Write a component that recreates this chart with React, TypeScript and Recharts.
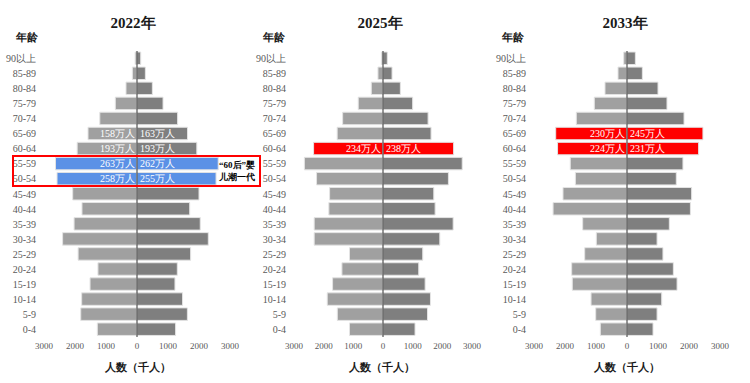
import React from 'react';
import { BarChart, Bar, XAxis, YAxis, Cell, LabelList, ReferenceLine } from 'recharts';

// age groups, bottom to top
const ages = ['0-4', '5-9', '10-14', '15-19', '20-24', '25-29', '30-34', '35-39', '40-44', '45-49',
    '50-54', '55-59', '60-64', '65-69', '70-74', '75-79', '80-84', '85-89', '90以上'];

// thousands of people, left = light bars, right = dark bars
const left2022 = [1280, 1815, 1785, 1515, 1260, 1900, 2400, 2030, 1775, 2075, 2580, 2630, 1930, 1580, 1200, 700, 355, 150, 60];
const right2022 = [1245, 1625, 1470, 1225, 1300, 1730, 2300, 2040, 1700, 2000, 2550, 2620, 1930, 1630, 1310, 840, 495, 270, 120];

const left2025 = [1130, 1540, 1880, 1700, 1385, 1130, 2320, 2320, 1825, 1800, 2240, 2650, 2340, 1545, 1360, 835, 395, 170, 55];
const right2025 = [1080, 1500, 1600, 1420, 1205, 1340, 1915, 2365, 1757, 1712, 2205, 2670, 2380, 1620, 1520, 1000, 585, 305, 145];

const left2033 = [860, 1010, 1160, 1765, 1785, 1365, 990, 1430, 2385, 2065, 1665, 1830, 2240, 2300, 1635, 1055, 710, 290, 105];
const right2033 = [840, 970, 1120, 1615, 1495, 1160, 970, 1365, 2045, 2085, 1590, 1805, 2310, 2450, 1840, 1290, 1000, 495, 270];

const xTicks = [-3000, -2000, -1000, 0, 1000, 2000, 3000];

const SERIF = '"Liberation Serif", "Times New Roman", serif';
const LEFT_GRAY = '#a0a0a0';
const RIGHT_GRAY = '#7f7f7f';

type Panel = {
    year: string;
    left: number[];
    right: number[];
    highlight: string[];
    hiColor: string;
    x: number;
    plotW: number;
    titleX: number;
    ageX: number;
    unitX: number;
};

const panels: Panel[] = [
    { year: '2022年', left: left2022, right: right2022, highlight: ['50-54', '55-59'], hiColor: '#5b91e6', x: 0, plotW: 186, titleX: 133, ageX: 16, unitX: 138 },
    { year: '2025年', left: left2025, right: right2025, highlight: ['60-64'], hiColor: '#ff0000', x: 250, plotW: 178, titleX: 380, ageX: 263, unitX: 382 },
    { year: '2033年', left: left2033, right: right2033, highlight: ['60-64', '65-69'], hiColor: '#ff0000', x: 490, plotW: 186, titleX: 625, ageX: 502, unitX: 627 },
];

// which rows carry a "xxx万人" label
const labelled: Record<string, string[]> = {
    '2022年': ['50-54', '55-59', '60-64', '65-69'],
    '2025年': ['60-64'],
    '2033年': ['60-64', '65-69'],
};

const toWan = (v: number) => `${Math.round(Math.abs(v) / 10)}万人`;

const makeLabel = (side: 'L' | 'R') => (props: any) => {
    const vb = props.viewBox && props.viewBox.width !== undefined ? props.viewBox : props;
    const { x, y, width, height } = vb;
    if (!props.value) return null;
    const x1 = Number(x), w = Number(width);
    const zero = side === 'L' ? Math.max(x1, x1 + w) : Math.min(x1, x1 + w);
    return (
        <text x={side === 'L' ? zero - 2 : zero + 3} y={Number(y) + Number(height) / 2} dy="0.36em"
            textAnchor={side === 'L' ? 'end' : 'start'} fill="#ffffff" fontSize={10} fontFamily={SERIF}>
            {props.value}
        </text>
    );
};

function Pyramid({ p }: { p: Panel }) {
    const labels = labelled[p.year];
    const data = ages.map((age, i) => ({
        age,
        left: -p.left[i],
        right: p.right[i],
        labelL: labels.includes(age) ? toWan(p.left[i]) : '',
        labelR: labels.includes(age) ? toWan(p.right[i]) : '',
    }));
    const yW = 44;
    const width = yW + p.plotW + 20;
    return (
        <div style={{ position: 'absolute', left: p.x, top: 0 }}>
            <BarChart width={width} height={383} data={data} layout="vertical" stackOffset="sign"
                margin={{ top: 51, right: 20, left: 0, bottom: 16 }}>
                <XAxis type="number" domain={[-3000, 3000]} ticks={xTicks} axisLine={false} tickLine={false}
                    tickSize={4} tickFormatter={(v: number) => String(Math.abs(v))}
                    tick={{ fill: '#595959', fontSize: 9, fontFamily: SERIF }} />
                <YAxis type="category" dataKey="age" reversed width={yW} axisLine={false} tickLine={false}
                    interval={0} tick={{ fill: '#595959', fontSize: 10, fontFamily: SERIF }} />
                <Bar dataKey="left" stackId="a" barSize={12.5} stroke="#e4e4e4" strokeWidth={1} isAnimationActive={false}>
                    {data.map((d) => (
                        <Cell key={`l-${d.age}`} fill={p.highlight.includes(d.age) ? p.hiColor : LEFT_GRAY} />
                    ))}
                    <LabelList dataKey="labelL" content={makeLabel('L')} />
                </Bar>
                <Bar dataKey="right" stackId="a" barSize={12.5} stroke="#e4e4e4" strokeWidth={1} isAnimationActive={false}>
                    {data.map((d) => (
                        <Cell key={`r-${d.age}`} fill={p.highlight.includes(d.age) ? p.hiColor : RIGHT_GRAY} />
                    ))}
                    <LabelList dataKey="labelR" content={makeLabel('R')} />
                </Bar>
                <ReferenceLine x={0} stroke="#333333" strokeWidth={1} />
            </BarChart>
        </div>
    );
}

const textBase: React.CSSProperties = { position: 'absolute', fontFamily: SERIF, fontWeight: 'bold', color: '#1a1a1a', whiteSpace: 'nowrap', lineHeight: 1 };

export default function App() {
    return (
        <div style={{ position: 'absolute', left: 0, top: 0, width: 750, height: 383, background: '#fff', overflow: 'hidden' }}>
            {panels.map((p) => (
                <React.Fragment key={p.year}>
                    <Pyramid p={p} />
                    <div style={{ ...textBase, left: p.titleX, top: 16, fontSize: 15, transform: 'translateX(-50%)' }}>{p.year}</div>
                    <div style={{ ...textBase, left: p.ageX, top: 32, fontSize: 11 }}>年龄</div>
                    <div style={{ ...textBase, left: p.unitX, top: 362, fontSize: 11, transform: 'translateX(-50%)' }}>人数（千人）</div>
                </React.Fragment>
            ))}
            <div style={{ position: 'absolute', left: 12, top: 155, width: 245, height: 28, border: '2px solid rgb(255,0,0)' }} />
            <div style={{ ...textBase, left: 219, top: 161, fontSize: 9, color: '#000' }}>“60后”婴</div>
            <div style={{ ...textBase, left: 219, top: 173, fontSize: 9, color: '#000' }}>儿潮一代</div>
        </div>
    );
}
